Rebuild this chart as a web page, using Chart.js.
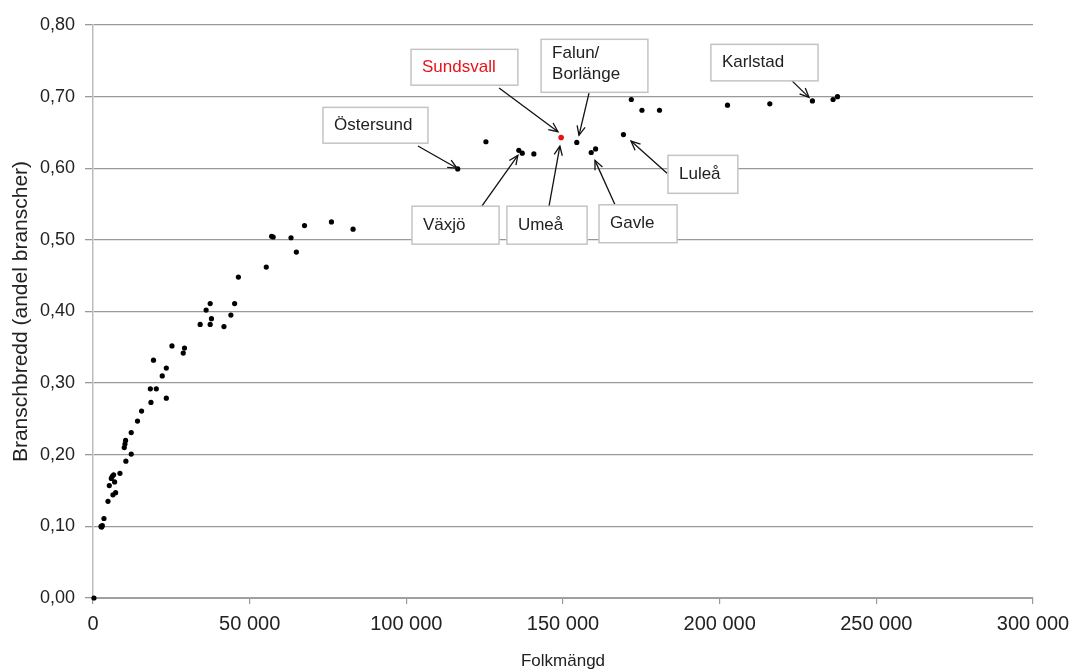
<!DOCTYPE html>
<html>
<head>
<meta charset="utf-8">
<script src="https://cdn.jsdelivr.net/npm/chart.js@4/dist/chart.umd.min.js"></script>
<style>
  html, body { margin: 0; padding: 0; background: #fff; }
  #wrap { width: 1073px; height: 672px; position: relative; }
</style>
</head>
<body>
<div id="wrap"><canvas id="c"></canvas></div>
<script>
// Population (Folkmängd) of each labour-market region
const folkmangd = [
  300, 2760, 2550, 2970, 3500, 4780, 5200, 5840, 6160, 6580, 6900, 6370, 7220, 8600,
  10500, 12200, 9980, 10200, 10400, 12200, 14200, 15500, 18500, 18300, 20200, 23400,
  22100, 23400, 19300, 25200, 28800, 29200, 34200, 36100, 37400, 37800, 37400, 41800,
  44000, 45200, 46400, 55300, 57000, 57500, 63200, 64900, 67500, 76100, 83000,
  116400, 125400, 135900, 137000, 140700, 154400, 159000, 160400, 169300,
  171800, 175200, 180800, 202500, 216000, 229600, 236200, 237600
];
// Industry breadth (Branschbredd, share of industries)
const branschbredd = [
  0.000, 0.099, 0.100, 0.101, 0.111, 0.135, 0.157, 0.167, 0.170, 0.172, 0.162, 0.144, 0.147, 0.174,
  0.191, 0.201, 0.210, 0.215, 0.220, 0.231, 0.247, 0.261, 0.273, 0.292, 0.292, 0.279,
  0.310, 0.321, 0.332, 0.352, 0.342, 0.349, 0.382, 0.402, 0.411, 0.390, 0.382, 0.379,
  0.395, 0.411, 0.448, 0.462, 0.505, 0.504, 0.503, 0.483, 0.520, 0.525, 0.515,
  0.599, 0.637, 0.625, 0.621, 0.620, 0.636, 0.622, 0.627, 0.647,
  0.696, 0.681, 0.681, 0.688, 0.690, 0.694, 0.696, 0.700
];
// Highlighted region
const sundsvallX = [149400];
const sundsvallY = [0.643];

// Axis ticks
const xTicks = [0, 50000, 100000, 150000, 200000, 250000, 300000];
const yTicks = [0, 0.1, 0.2, 0.3, 0.4, 0.5, 0.6, 0.7, 0.8];

// Callout labels (text, box corners in data units, arrow start/end in data units)
const calloutText = ['Sundsvall', 'Falun/\nBorlänge', 'Östersund', 'Växjö', 'Umeå', 'Gavle', 'Luleå', 'Karlstad'];
const calloutBox = [
  [101500, 0.766, 135600, 0.716],
  [143000, 0.780, 177100, 0.706],
  [73400, 0.685, 106900, 0.635],
  [101800, 0.547, 129600, 0.494],
  [132100, 0.547, 157700, 0.494],
  [161500, 0.549, 186400, 0.496],
  [183500, 0.618, 205800, 0.565],
  [197200, 0.773, 231400, 0.722]
];
const calloutArrow = [
  [129600, 0.712, 148400, 0.651],
  [158300, 0.705, 155100, 0.646],
  [103700, 0.631, 116200, 0.600],
  [124100, 0.547, 135600, 0.618],
  [145500, 0.546, 149000, 0.631],
  [166600, 0.549, 160200, 0.611],
  [183200, 0.593, 171700, 0.638],
  [223100, 0.722, 228500, 0.699]
];
const calloutColor = ['#e8121a', '#222', '#222', '#222', '#222', '#222', '#222', '#222'];

const mainPoints = folkmangd.map((x, i) => ({ x: x, y: branschbredd[i] }));
const redPoints = sundsvallX.map((x, i) => ({ x: x, y: sundsvallY[i] }));

const fmtThousands = v => String(v).replace(/\B(?=(\d{3})+(?!\d))/g, ' ');

const calloutPlugin = {
  id: 'callouts',
  afterDatasetsDraw(chart) {
    const ctx = chart.ctx, xs = chart.scales.x, ys = chart.scales.y;
    ctx.save();
    // arrows
    calloutArrow.forEach(a => {
      const x1 = xs.getPixelForValue(a[0]), y1 = ys.getPixelForValue(a[1]);
      const x2 = xs.getPixelForValue(a[2]), y2 = ys.getPixelForValue(a[3]);
      ctx.strokeStyle = '#111';
      ctx.lineWidth = 1.3;
      ctx.beginPath();
      ctx.moveTo(x1, y1); ctx.lineTo(x2, y2); ctx.stroke();
      const ang = Math.atan2(y2 - y1, x2 - x1), L = 10, w = 0.42;
      ctx.beginPath();
      ctx.moveTo(x2 - L * Math.cos(ang - w), y2 - L * Math.sin(ang - w));
      ctx.lineTo(x2, y2);
      ctx.lineTo(x2 - L * Math.cos(ang + w), y2 - L * Math.sin(ang + w));
      ctx.stroke();
    });
    // boxes + text
    calloutBox.forEach((b, i) => {
      const l = xs.getPixelForValue(b[0]), t = ys.getPixelForValue(b[1]);
      const r = xs.getPixelForValue(b[2]), bt = ys.getPixelForValue(b[3]);
      ctx.fillStyle = '#fff';
      ctx.fillRect(l, t, r - l, bt - t);
      ctx.strokeStyle = '#c4c4c4';
      ctx.lineWidth = 1.5;
      ctx.strokeRect(l, t, r - l, bt - t);
      const lines = calloutText[i].split('\n');
      ctx.fillStyle = calloutColor[i];
      ctx.font = '17px "Liberation Sans", Arial, sans-serif';
      ctx.textAlign = 'left';
      ctx.textBaseline = 'middle';
      const lh = 21, cy = (t + bt) / 2 - (lines.length - 1) * lh / 2 - (lines.length > 1 ? 2 : 0);
      lines.forEach((ln, k) => ctx.fillText(ln, l + 11, cy + k * lh));
    });
    ctx.restore();
  }
};

new Chart(document.getElementById('c'), {
  type: 'scatter',
  data: {
    datasets: [
      { data: mainPoints, backgroundColor: '#000', borderColor: '#000', pointRadius: 2.6, pointHoverRadius: 2.6, borderWidth: 0, clip: false },
      { data: redPoints, backgroundColor: '#ee1111', borderColor: '#ee1111', pointRadius: 2.8, pointHoverRadius: 2.8, borderWidth: 0, clip: false }
    ]
  },
  options: {
    responsive: true,
    maintainAspectRatio: false,
    animation: false,
    events: [],
    layout: { padding: { top: 25, right: 40, left: 0, bottom: 0 } },
    plugins: { legend: { display: false }, tooltip: { enabled: false } },
    scales: {
      x: {
        type: 'linear',
        min: 0, max: 300000,
        afterBuildTicks: s => { s.ticks = xTicks.map(v => ({ value: v })); },
        afterFit: s => { s.height = 74; s.paddingRight = 0; },
        ticks: {
          callback: v => fmtThousands(v),
          color: '#222',
          font: { family: '"Liberation Sans", Arial, sans-serif', size: 20 },
          padding: 8,
          maxRotation: 0
        },
        grid: { drawOnChartArea: false, color: '#999', tickLength: 6, lineWidth: 1.2 },
        border: { display: true, color: '#a0a0a0', width: 2 },
        title: {
          display: true, text: 'Folkmängd', color: '#222',
          font: { family: '"Liberation Sans", Arial, sans-serif', size: 17 },
          padding: { top: 0, bottom: 0 }
        }
      },
      y: {
        type: 'linear',
        min: 0, max: 0.8,
        afterBuildTicks: s => { s.ticks = yTicks.map(v => ({ value: v })); },
        afterFit: s => { s.width = 93; },
        ticks: {
          callback: v => v.toFixed(2).replace('.', ','),
          color: '#222',
          font: { family: '"Liberation Sans", Arial, sans-serif', size: 18 },
          padding: 10
        },
        grid: { color: '#999', lineWidth: 1.3, tickLength: 8 },
        border: { display: true, color: '#bdbdbd', width: 1.5 },
        title: {
          display: true, text: 'Branschbredd (andel branscher)', color: '#222',
          font: { family: '"Liberation Sans", Arial, sans-serif', size: 21 },
          padding: { top: 9, bottom: 0 }
        }
      }
    }
  },
  plugins: [calloutPlugin]
});
</script>
</body>
</html>
